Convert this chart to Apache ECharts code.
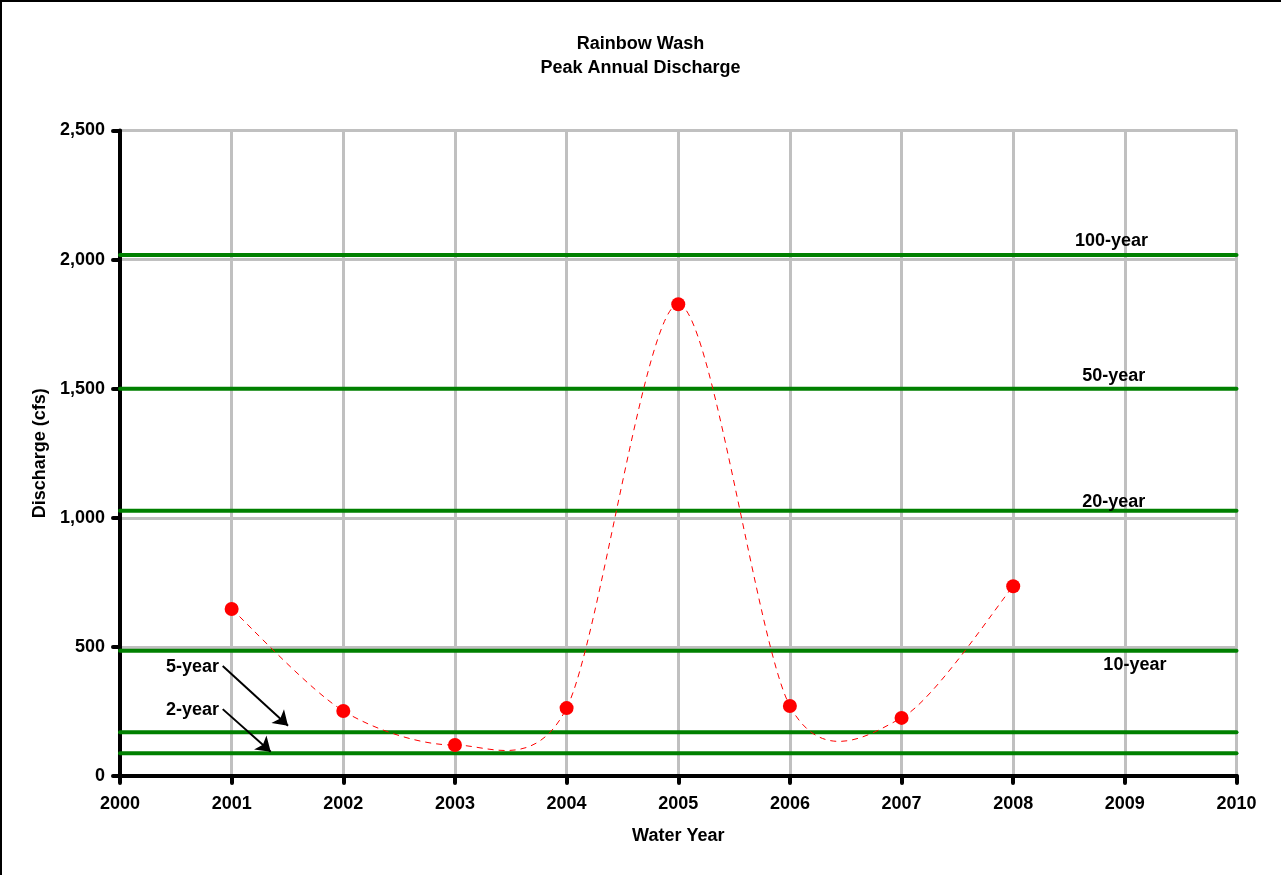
<!DOCTYPE html>
<html>
<head>
<meta charset="utf-8">
<script src="https://cdn.jsdelivr.net/npm/echarts@6/dist/echarts.min.js"></script>
<style>
html,body{margin:0;padding:0;background:#fff;}
#chart{width:1281px;height:875px;}
</style>
</head>
<body>
<div id="chart"></div>
<script>
// ---- data ----
const titleLines = ['Rainbow Wash', 'Peak Annual Discharge'];
const xAxisName = 'Water Year';
const yAxisName = 'Discharge (cfs)';
const years = [2001, 2002, 2003, 2004, 2005, 2006, 2007, 2008];
const peakFlows = [647, 252, 120, 263, 1827, 271, 225, 735];
const periodNames = ['2-year', '5-year', '10-year', '20-year', '50-year', '100-year'];
const periodFlows = [88, 169, 485, 1027, 1500, 2018];
// label anchor points (data coords) for return-period labels
const periodLabelX = [2000.65, 2000.65, 2009.09, 2008.9, 2008.9, 2008.88];
const periodLabelY = [256, 421, 430, 1062, 1548, 2070];
// arrows from label to line (data coords) for 2-year and 5-year
const arrowStarts = [[2000.92, 259], [2000.92, 426]];
const arrowEnds = [[2001.35, 94], [2001.505, 195]];
const xMin = 2000, xMax = 2010, xStep = 1;
const yMin = 0, yMax = 2500, yStep = 500;

// ---- chart ----
const FONT = "'Liberation Sans', Arial, sans-serif";
const FS = 18;
const TENSION = 0.145;
const chart = echarts.init(document.getElementById('chart'), null, {renderer: 'canvas'});

const periodSeries = periodFlows.map((v, i) => ({
  name: periodNames[i],
  type: 'line',
  data: [[xMin, v], [xMax, v]],
  showSymbol: false,
  symbol: 'none',
  silent: true,
  z: 2,
  lineStyle: {color: '#008000', width: 4, cap: 'round'}
}));

// Excel-style smoothed line: cubic Bezier through the points (cardinal spline),
// drawn in pixel space from coordinates given by the axes.
function renderSmooth(params, api) {
  const i = params.dataIndex;
  const n = years.length;
  if (i >= n - 1) return null;
  const P = k => {
    const kk = Math.max(0, Math.min(n - 1, k));
    return api.coord([years[kk], peakFlows[kk]]);
  };
  const p0 = P(i - 1), p1 = P(i), p2 = P(i + 1), p3 = P(i + 2);
  return {
    type: 'bezierCurve',
    shape: {
      x1: p1[0], y1: p1[1], x2: p2[0], y2: p2[1],
      cpx1: p1[0] + (p2[0] - p0[0]) * TENSION, cpy1: p1[1] + (p2[1] - p0[1]) * TENSION,
      cpx2: p2[0] - (p3[0] - p1[0]) * TENSION, cpy2: p2[1] - (p3[1] - p1[1]) * TENSION
    },
    style: {stroke: '#ff0000', lineWidth: 1, lineDash: [6, 5], fill: null}
  };
}

const option = {
  animation: false,
  backgroundColor: '#ffffff',
  textStyle: {fontFamily: FONT},
  title: {
    text: titleLines.join('\n'),
    left: 'center',
    top: 27,
    textStyle: {fontFamily: FONT, fontSize: FS, fontWeight: 'bold', color: '#000', lineHeight: 24}
  },
  graphic: [
    {type: 'rect', left: 0, top: 0, shape: {width: 1281, height: 2}, style: {fill: '#000'}, z: 100},
    {type: 'rect', left: 0, top: 0, shape: {width: 2, height: 875}, style: {fill: '#000'}, z: 100}
  ],
  grid: {
    left: 120, right: 44.5, top: 130.5, bottom: 99,
    show: true, borderColor: '#8a8a8a', borderWidth: 2, backgroundColor: 'transparent'
  },
  xAxis: {
    type: 'value',
    min: xMin, max: xMax, interval: xStep,
    name: xAxisName,
    nameLocation: 'middle',
    nameGap: 51,
    nameTextStyle: {fontFamily: FONT, fontSize: FS, fontWeight: 'bold', color: '#000'},
    axisLine: {show: true, onZero: false, lineStyle: {color: '#000', width: 4}},
    axisTick: {show: true, length: 7, lineStyle: {color: '#000', width: 4, cap: 'round'}},
    axisLabel: {
      margin: 19, fontFamily: FONT, fontSize: FS, fontWeight: 'bold', color: '#000',
      formatter: v => String(Math.round(v))
    },
    splitLine: {show: true, lineStyle: {color: '#c0c0c0', width: 3}}
  },
  yAxis: {
    type: 'value',
    min: yMin, max: yMax, interval: yStep,
    name: yAxisName,
    nameLocation: 'middle',
    nameGap: 70,
    nameRotate: 90,
    nameTextStyle: {fontFamily: FONT, fontSize: FS, fontWeight: 'bold', color: '#000'},
    axisLine: {show: true, onZero: false, lineStyle: {color: '#000', width: 4}},
    axisTick: {show: true, length: 7, lineStyle: {color: '#000', width: 4, cap: 'round'}},
    axisLabel: {
      margin: 15, fontFamily: FONT, fontSize: FS, fontWeight: 'bold', color: '#000',
      formatter: v => v.toLocaleString('en-US')
    },
    splitLine: {show: true, lineStyle: {color: '#c0c0c0', width: 3}}
  },
  series: [
    ...periodSeries,
    {
      name: 'labels',
      type: 'scatter',
      symbolSize: 0,
      silent: true,
      z: 6,
      itemStyle: {opacity: 1},
      data: periodNames.map((n, i) => ({name: n, value: [periodLabelX[i], periodLabelY[i]]})),
      label: {
        show: true, position: 'inside', formatter: p => p.name,
        fontFamily: FONT, fontSize: FS, fontWeight: 'bold', color: '#000', opacity: 1
      }
    },
    {
      name: 'arrows',
      type: 'lines',
      coordinateSystem: 'cartesian2d',
      silent: true,
      z: 6,
      symbol: ['none', 'arrow'],
      symbolSize: 14,
      lineStyle: {color: '#000', width: 2, opacity: 1, curveness: 0},
      data: arrowStarts.map((s, i) => ({coords: [s, arrowEnds[i]]}))
    },
    {
      name: 'Peak Discharge curve',
      type: 'custom',
      silent: true,
      z: 4,
      data: years.map((y, i) => [y, peakFlows[i]]),
      renderItem: renderSmooth
    },
    {
      name: 'Peak Discharge',
      type: 'scatter',
      data: years.map((y, i) => [y, peakFlows[i]]),
      symbol: 'circle',
      symbolSize: 14,
      z: 5,
      itemStyle: {color: '#ff0000', opacity: 1, borderWidth: 0}
    }
  ]
};
chart.setOption(option);
</script>
</body>
</html>
